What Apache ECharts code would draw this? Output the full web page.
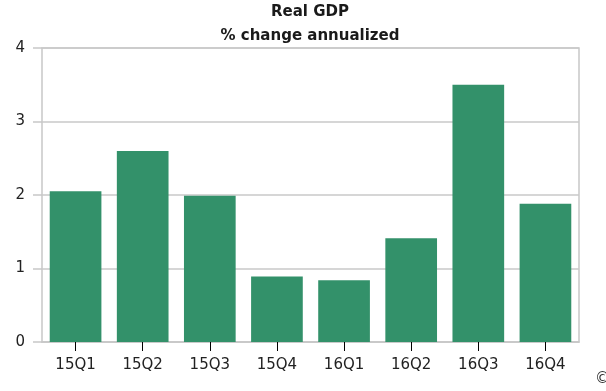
<!DOCTYPE html>
<html><head><meta charset="utf-8">
<script src="https://cdn.jsdelivr.net/npm/echarts@6/dist/echarts.min.js"></script>
<style>html,body{margin:0;padding:0;background:#fff}#c{width:606px;height:391px}</style>
</head><body><div id="c"></div>
<script>
const categories = ["15Q1","15Q2","15Q3","15Q4","16Q1","16Q2","16Q3","16Q4"];
const gdpValues = [2.05, 2.60, 1.99, 0.89, 0.84, 1.41, 3.50, 1.88];
const yTicks = [0, 1, 2, 3, 4];
const titleText = "Real GDP";
const subtitleText = "% change annualized";

const FONT = 'DejaVu Sans';
const chart = echarts.init(document.getElementById('c'));
chart.setOption({
  animation: false,
  title: [
    {text: titleText, left: 310, top: 5, textAlign: 'center', padding: 0,
     textStyle: {fontFamily: FONT, fontWeight: 'bold', fontSize: 15, color: '#1a1a1a'}},
    {text: subtitleText, left: 310, top: 29, textAlign: 'center', padding: 0,
     textStyle: {fontFamily: FONT, fontWeight: 'bold', fontSize: 15, color: '#1a1a1a'}}
  ],
  grid: {left: 42, right: 27, top: 48, bottom: 49, show: true, borderColor: '#c8c8c8', borderWidth: 1.5},
  xAxis: {
    type: 'category', data: categories,
    axisLine: {lineStyle: {color: '#c8c8c8', width: 1.5}},
    axisTick: {show: true, alignWithLabel: true, length: 9, lineStyle: {color: '#000', width: 1}},
    axisLabel: {fontFamily: FONT, fontSize: 15, color: '#222', margin: 16}
  },
  yAxis: {
    type: 'value', min: yTicks[0], max: yTicks[yTicks.length-1], interval: 1,
    axisLine: {show: false},
    axisTick: {show: true, length: 9, lineStyle: {color: '#c8c8c8', width: 1.5}},
    splitLine: {lineStyle: {color: '#c8c8c8', width: 1.5}},
    axisLabel: {fontFamily: FONT, fontSize: 15, color: '#222', margin: 17}
  },
  series: [{
    type: 'bar', data: gdpValues, barWidth: '77%',
    itemStyle: {color: '#33916a'}
  }],
  graphic: [{type: 'text', left: 595, top: 372, style: {text: '©', fontSize: 15, fill: '#333', fontFamily: FONT}}]
});
</script></body></html>
